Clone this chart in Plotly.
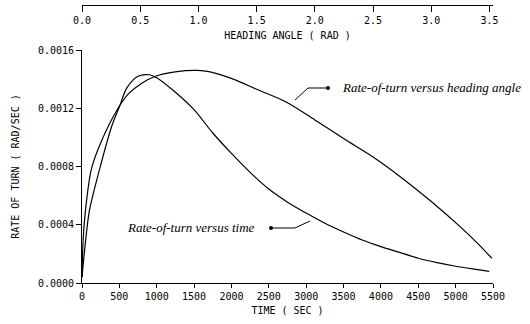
import plotly.graph_objects as go

# Rate-of-turn versus time (bottom axis, seconds)
time_sec = [0, 50, 100, 250, 400, 500, 600, 750, 900, 1000, 1250, 1500, 1750, 2000,
            2250, 2500, 2750, 3000, 3250, 3500, 3750, 4000, 4250, 4500, 4750, 5000, 5250, 5450]
rate_vs_time = [0.00004, 0.00030, 0.00050, 0.00081, 0.00108, 0.00121, 0.00134, 0.00142,
                0.00143, 0.00141, 0.00131, 0.00119, 0.00103, 0.00089, 0.00076, 0.000645,
                0.000555, 0.00048, 0.00041, 0.00035, 0.000295, 0.00025, 0.00021, 0.00017,
                0.00014, 0.000115, 0.000095, 0.00008]

# Rate-of-turn versus heading angle (top axis, radians)
heading_rad = [0.00, 0.01, 0.03, 0.08, 0.17, 0.31, 0.40, 0.51, 0.63, 0.80, 0.99, 1.10,
               1.30, 1.50, 1.75, 2.00, 2.25, 2.50, 2.75, 3.00, 3.25, 3.40, 3.52]
rate_vs_heading = [0.00004, 0.00030, 0.00050, 0.00078, 0.00098, 0.00120, 0.00130, 0.00137,
                   0.00142, 0.00145, 0.00146, 0.00145, 0.00140, 0.00133, 0.001245, 0.00112,
                   0.00099, 0.000865, 0.00072, 0.00056, 0.000385, 0.00027, 0.00017]

time_ticks = [0, 500, 1000, 1500, 2000, 2500, 3000, 3500, 4000, 4500, 5000, 5500]
heading_ticks = [0.0, 0.5, 1.0, 1.5, 2.0, 2.5, 3.0, 3.5]
rate_ticks = [0.0, 0.0004, 0.0008, 0.0012, 0.0016]

W, H = 530, 324
ML, MR, MT, MB = 82, 37, 5, 41
PW, PH = W - ML - MR, H - MT - MB


def px(x):
    return (x - ML) / PW


def py(y):
    return (H - MB - y) / PH


axis_font = dict(family="DejaVu Sans Mono", size=10, color="black")
label_font = dict(family="Liberation Serif", size=13, color="black")

fig = go.Figure()
fig.add_trace(go.Scatter(x=time_sec, y=rate_vs_time, mode="lines",
                         line=dict(color="black", width=1.2, shape="spline", smoothing=0.8),
                         xaxis="x", yaxis="y", showlegend=False))
fig.add_trace(go.Scatter(x=heading_rad, y=rate_vs_heading, mode="lines",
                         line=dict(color="black", width=1.2, shape="spline", smoothing=0.8),
                         xaxis="x2", yaxis="y", showlegend=False))

fig.update_layout(
    width=W, height=H,
    margin=dict(l=ML, r=MR, t=MT, b=MB, autoexpand=False),
    paper_bgcolor="white", plot_bgcolor="white",
    font=axis_font,
    xaxis=dict(range=[0, 5500], tickvals=time_ticks, ticktext=[str(t) for t in time_ticks],
               showline=True, linecolor="black", linewidth=1, ticks="outside", ticklen=4,
               tickcolor="black", showgrid=False, zeroline=False, anchor="y", automargin=False,
               title=dict(text="TIME ( SEC )", font=axis_font, standoff=5)),
    xaxis2=dict(range=[0, 3.53], tickvals=heading_ticks,
                ticktext=[f"{t:.1f}" for t in heading_ticks],
                overlaying="x", anchor="free", position=1, side="bottom", automargin=False,
                showline=True, linecolor="black", linewidth=1, ticks="outside", ticklen=6,
                tickcolor="black", showgrid=False, zeroline=False,
                title=dict(text="HEADING ANGLE ( RAD )", font=axis_font, standoff=6)),
    yaxis=dict(range=[0, 0.0016], domain=[0, (H - MB - 50) / PH], tickvals=rate_ticks,
               ticktext=[f"{t:.4f}" for t in rate_ticks], automargin=False,
               showline=True, linecolor="black", linewidth=1, ticks="outside", ticklen=5,
               tickcolor="black", showgrid=False, zeroline=False,
               title=dict(text="RATE OF TURN ( RAD/SEC )", font=axis_font, standoff=16)),
)

# leader lines
fig.add_shape(type="path", xref="paper", yref="paper",
              path=f"M {px(295)} {py(100)} L {px(308)} {py(88)} L {px(328)} {py(88)}",
              line=dict(color="black", width=1))
fig.add_shape(type="path", xref="paper", yref="paper",
              path=f"M {px(310)} {py(221)} L {px(295)} {py(228)} L {px(271)} {py(228)}",
              line=dict(color="black", width=1))
for cx, cy in [(328, 88), (271, 228)]:
    fig.add_shape(type="circle", xref="paper", yref="paper",
                  x0=px(cx - 2), x1=px(cx + 2), y0=py(cy + 2), y1=py(cy - 2),
                  fillcolor="black", line=dict(color="black", width=0))

fig.add_annotation(xref="paper", yref="paper", x=px(340), y=py(87), xanchor="left",
                   yanchor="middle", text="<i>Rate-of-turn versus heading angle</i>",
                   showarrow=False, font=label_font)
fig.add_annotation(xref="paper", yref="paper", x=px(125), y=py(227), xanchor="left",
                   yanchor="middle", text="<i>Rate-of-turn versus time</i>",
                   showarrow=False, font=label_font)

fig.write_html("out.html", config={"displayModeBar": False},
               post_script="document.body.style.margin='0';document.body.style.overflow='hidden';")
